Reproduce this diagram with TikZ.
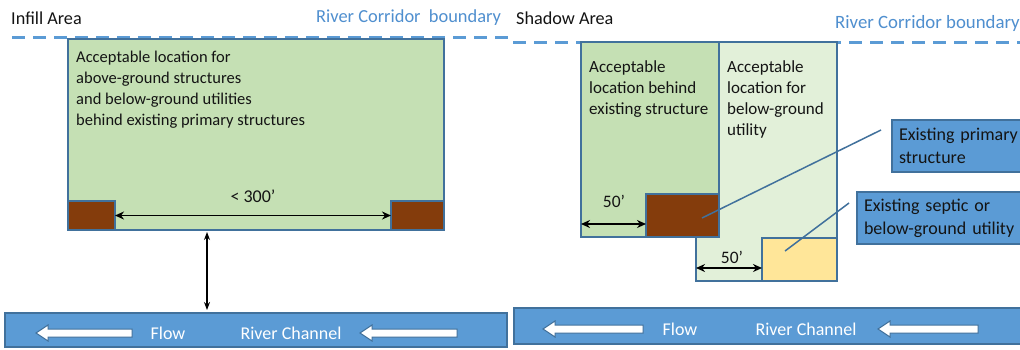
\documentclass[tikz,border=0pt]{standalone}
\usepackage{fontspec}
\setmainfont{Carlito}
\usetikzlibrary{arrows.meta}
\definecolor{gA}{HTML}{C5E0B4}
\definecolor{gB}{HTML}{E2F0D9}
\definecolor{brownbox}{HTML}{843C0C}
\definecolor{yel}{HTML}{FFE699}
\definecolor{bluefill}{HTML}{5B9BD5}
\definecolor{bord}{HTML}{41719C}
\definecolor{bluetext}{HTML}{4F8FCF}
\definecolor{ink}{HTML}{141414}
\begin{document}
\begin{tikzpicture}[x=1pt,y=-1pt,
  box/.style={draw=bord, line width=1.6pt, inner sep=0pt, outer sep=0pt, anchor=north west},
  heading/.style={font=\fontsize{18.2}{22}\selectfont, text=ink, anchor=west, inner sep=0pt},
  bluehead/.style={font=\fontsize{18.4}{22}\selectfont, text=bluetext, anchor=west, inner sep=0pt},
  boundary/.style={draw=bluefill, line width=3pt, dash pattern=on 13pt off 8pt},
  bodytext/.style={align=left, anchor=north west, inner sep=0pt, text=ink},
  callout/.style={box, fill=bluefill, align=left, inner xsep=7pt, text=ink,
    font=\fontsize{18}{23}\selectfont},
  chantext/.style={text=white, font=\fontsize{18}{22}\selectfont, inner sep=0pt},
  dim/.style={{Stealth[length=9pt,width=8pt]}-{Stealth[length=9pt,width=8pt]}, line width=1.8pt, black},
  vdim/.style={{Stealth[length=8pt,width=6pt]}-{Stealth[length=8pt,width=6pt]}, line width=1.2pt, black},
  leader/.style={draw=bord, line width=1.5pt},
  flowarr/.pic={\draw[fill=white, draw=bord, line width=1pt]
     (0,0) -- (12,-8) -- (12,-4) -- (#1,-4) -- (#1,4) -- (12,4) -- (12,8) -- cycle;}
]
\useasboundingbox (0,0) rectangle (1020,349);
\fill[white] (0,0) rectangle (1020,349);

% ---------- left panel ----------
\draw[boundary] (12,37) -- (510,37);
\node[heading] (infill) at (11,18) {Infill Area};
\node[bluehead] (rcb1) at (316,18) {River Corridor\ \ boundary};

\node[box, fill=gA, minimum width=376pt, minimum height=191pt] (main) at (68,39) {};
\node[bodytext, font=\fontsize{16.5}{21}\selectfont] (maintext) at (76,51)
  {Acceptable location for\\above-ground structures\\and below-ground utilities\\behind existing primary structures};
\node[box, fill=brownbox, minimum width=47pt, minimum height=29pt] (b1) at (68,201) {};
\node[box, fill=brownbox, minimum width=53pt, minimum height=29pt] (b2) at (391,201) {};
\node[chantext, text=ink] (d300) at (253,196) {< 300’};
\draw[dim] (b1.east) -- (b2.west);

\node[box, fill=bluefill, minimum width=502pt, minimum height=34pt] (chanL) at (5,313) {};
\coordinate (va) at (207,0);
\draw[vdim, shorten <=2pt, shorten >=3pt] (main.south -| va) -- (chanL.north -| va);
\pic at (36,333) {flowarr=96};
\pic at (360,333) {flowarr=97};
\node[chantext] (flowL) at (168,333) {Flow};
\node[chantext] (rivL) at (291,333) {River Channel};

% ---------- right panel ----------
\draw[boundary] (513,42) -- (1020,42);
\node[heading] (shadow) at (516,18) {Shadow Area};
\node[bluehead, font=\fontsize{18.8}{22}\selectfont] (rcb2) at (835,23) {River Corridor boundary};

\node[box, fill=gB, minimum width=141pt, minimum height=239pt] (lg) at (696,42) {};
\node[box, fill=gA, minimum width=138pt, minimum height=195pt] (dg) at (581,42) {};
\node[box, fill=brownbox, minimum width=73pt, minimum height=43pt] (br) at (646,194) {};
\node[box, fill=yel, minimum width=75pt, minimum height=43pt] (ye) at (762,238) {};

\node[bodytext, font=\fontsize{17}{21}\selectfont] (dgtext) at (589,60)
  {Acceptable\\location behind\\existing structure};
\node[bodytext, font=\fontsize{17}{21}\selectfont] (lgtext) at (727,60)
  {Acceptable\\location for\\below-ground\\utility};

\node[chantext, text=ink, font=\fontsize{17.5}{21}\selectfont] (f50a) at (614,201) {50’};
\draw[dim] ([yshift=13pt]dg.south west) -- ([yshift=13pt]br.south west);
\node[chantext, text=ink, font=\fontsize{17.5}{21}\selectfont] (f50b) at (732,257) {50’};
\draw[dim] ([yshift=13pt]lg.south west) -- ([yshift=13pt]ye.south west);

\node[callout, text width=150pt, minimum height=52pt] (c1) at (892,120) {Existing primary\\structure};
\node[callout, text width=172pt, minimum height=52pt] (c2) at (857,192) {Existing septic or\\below-ground utility};
\coordinate (p1) at (702,218);
\coordinate (p1e) at (881,130);
\coordinate (p2) at (785,251);
\coordinate (p2e) at (849,203);
\draw[leader] (p1) -- (p1e);
\draw[leader] (p2) -- (p2e);

\node[box, fill=bluefill, minimum width=510pt, minimum height=36pt] (chanR) at (514,308) {};
\pic at (543,329) {flowarr=100};
\pic at (878,329) {flowarr=100};
\node[chantext] (flowR) at (680,329) {Flow};
\node[chantext] (rivR) at (806,329) {River Channel};
\end{tikzpicture}
\end{document}
